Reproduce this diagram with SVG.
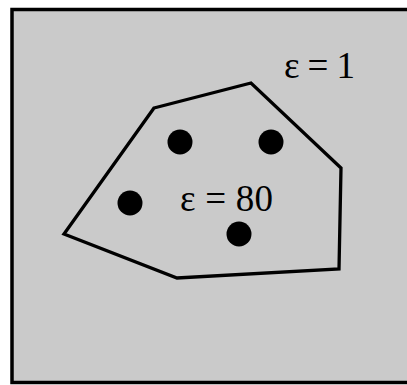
<svg xmlns="http://www.w3.org/2000/svg" width="407" height="385" viewBox="0 0 407 385">
<style>
.lbl{font-family:"Liberation Serif","Times New Roman",serif;font-size:37px;fill:#000}
.dot{fill:#000}
</style>
<rect width="407" height="385" fill="#fff"/>
<rect id="box" x="12" y="9.5" width="400" height="373" fill="#cacaca" stroke="#000" stroke-width="3.5"/>
<g id="region">
<polygon points="154,108 251,83 341,168 339,269 177,278 64,234" fill="none" stroke="#000" stroke-width="3.3" stroke-linejoin="miter"/>
</g>
<g id="charges">
<circle class="dot" cx="180" cy="142" r="12.5"/>
<circle class="dot" cx="271" cy="142" r="12.5"/>
<circle class="dot" cx="130" cy="203" r="12.5"/>
<circle class="dot" cx="239" cy="234" r="12.5"/>
</g>
<text class="lbl" x="284" y="78" textLength="71" lengthAdjust="spacing">ε = 1</text>
<text class="lbl" x="180" y="211" textLength="93" lengthAdjust="spacing">ε = 80</text>
</svg>
